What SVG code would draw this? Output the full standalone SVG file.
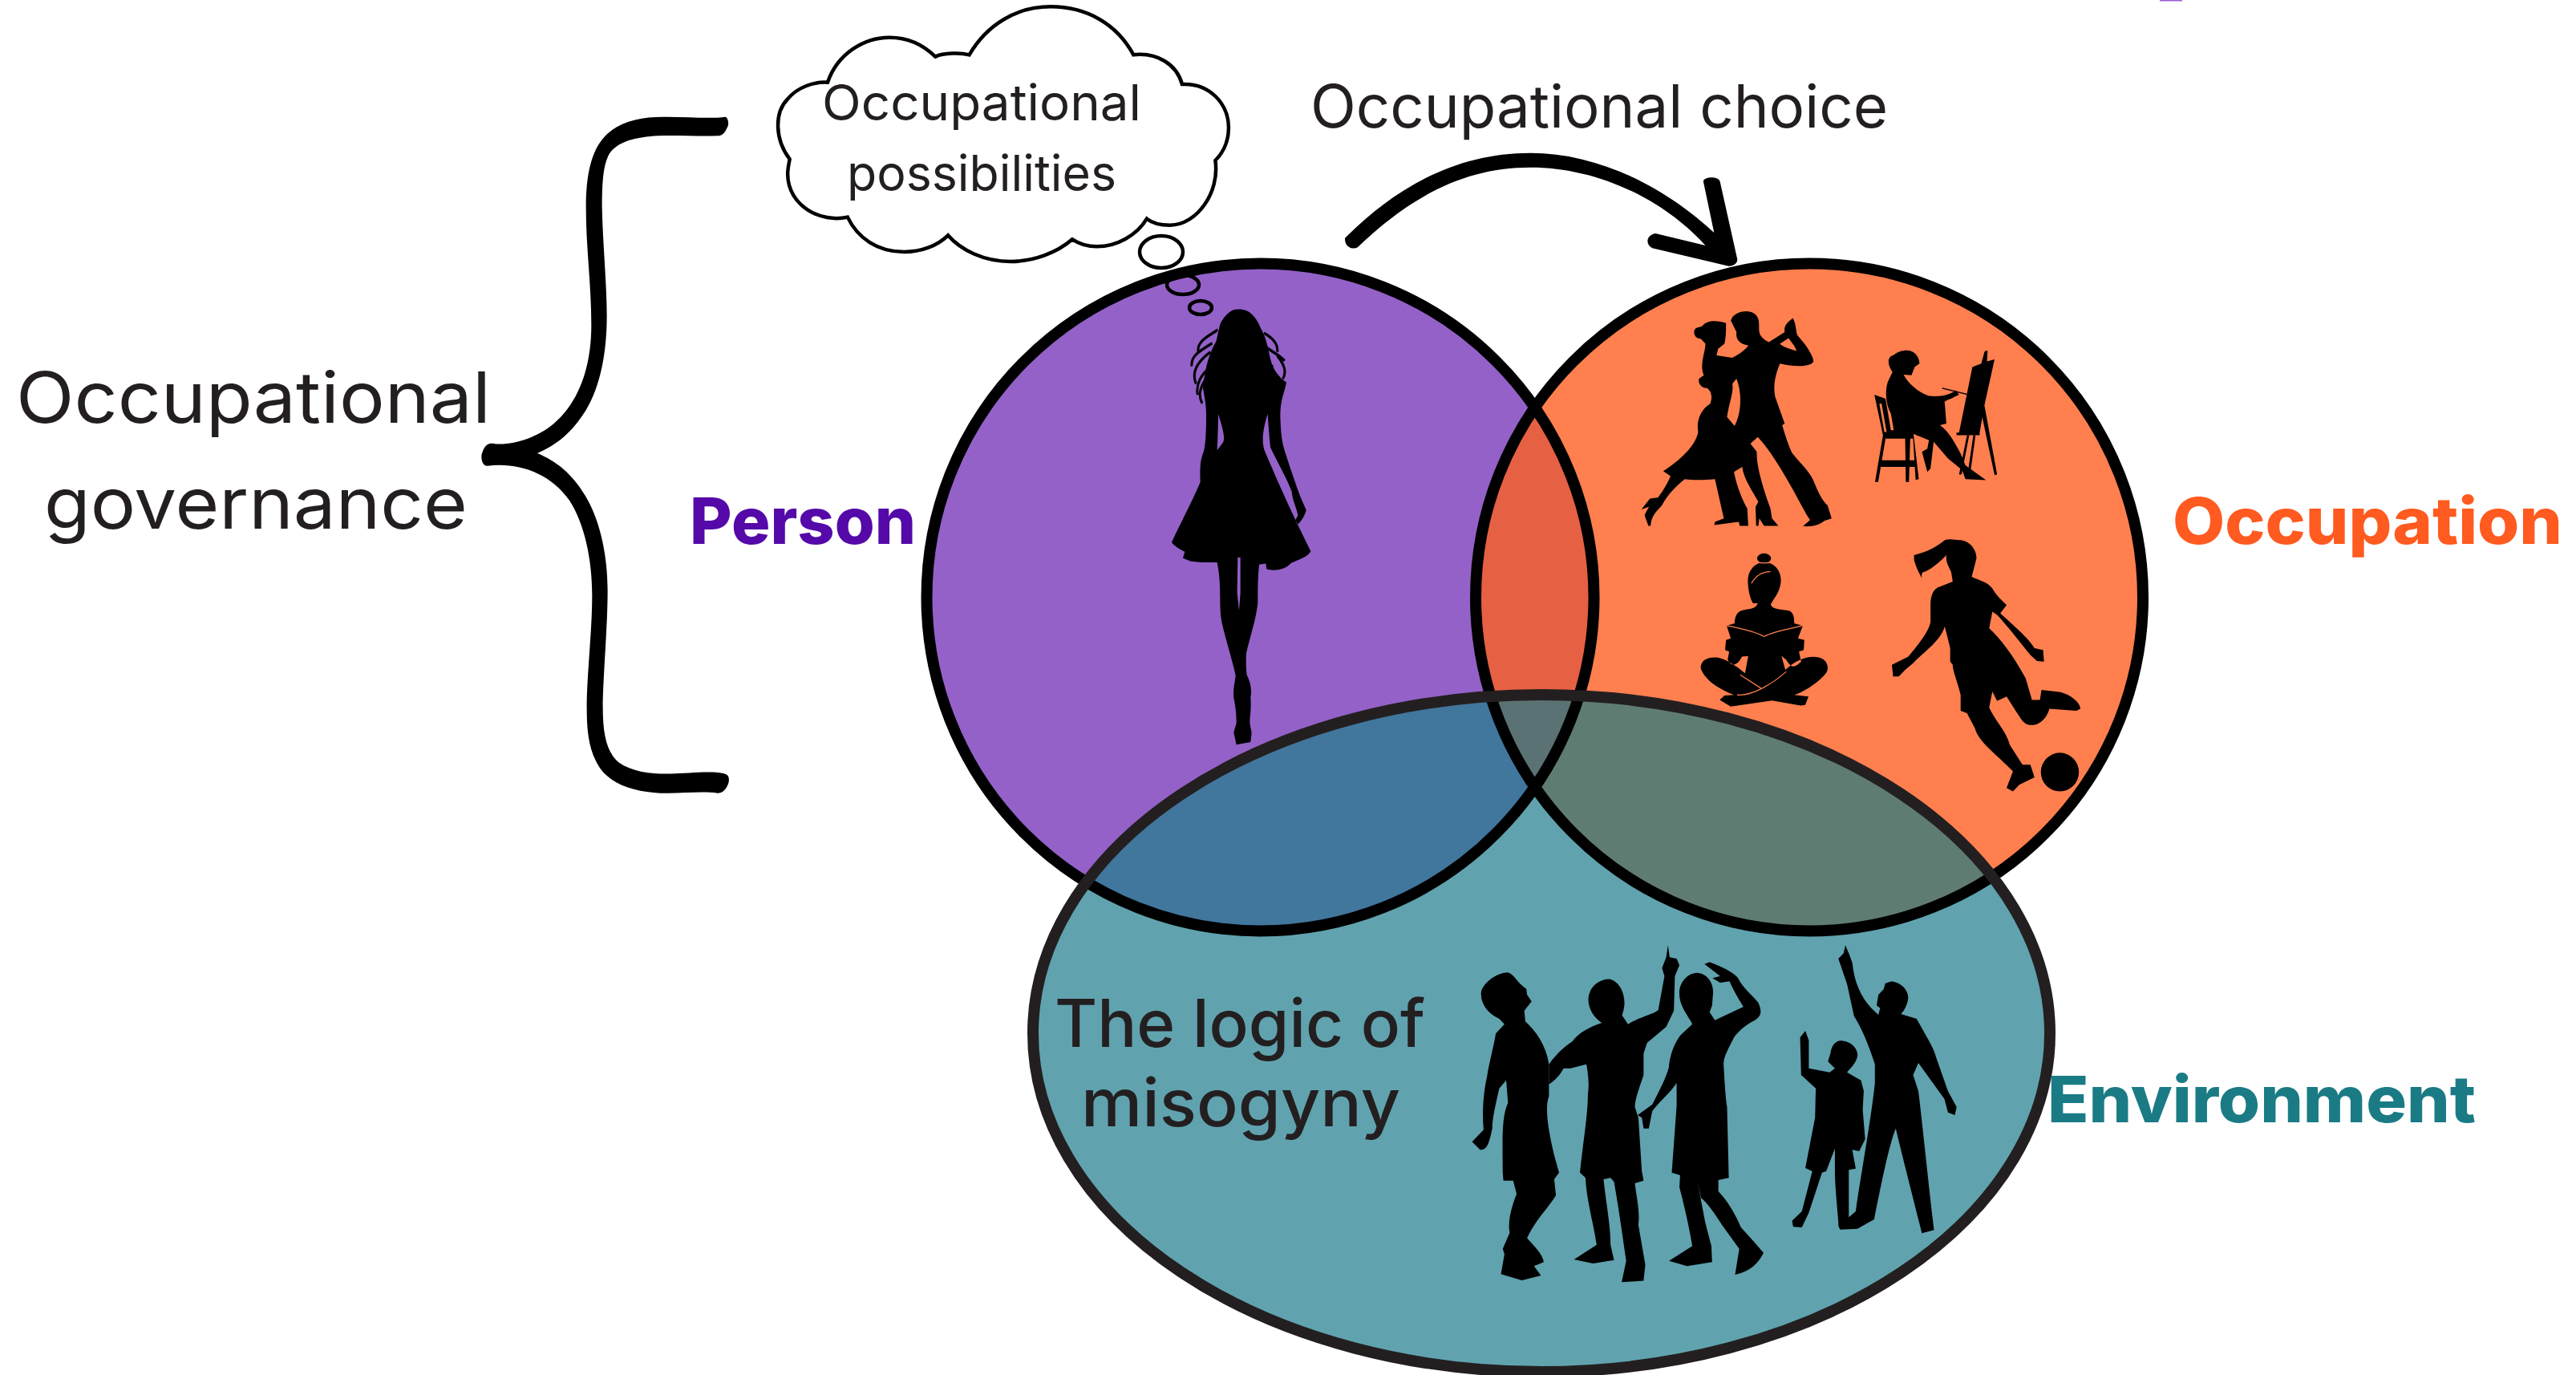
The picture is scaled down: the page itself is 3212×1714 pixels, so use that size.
<svg xmlns="http://www.w3.org/2000/svg" width="3212" height="1714" viewBox="0 0 3212 1714">
<style>
.t{font-family:Inter,"Liberation Sans",sans-serif;fill:#231f20;font-weight:400}
.m{font-weight:500}
.b{font-family:Inter,"Liberation Sans",sans-serif;font-weight:800}
.ring{fill:none;stroke:#000;stroke-width:14}
.sil{fill:#000;fill-rule:evenodd}
.bub{stroke:#000;stroke-width:4.5}
</style>
<defs>
<clipPath id="cpP"><circle cx="1571.5" cy="744.5" r="416"/></clipPath>
<clipPath id="cpO"><circle cx="2256" cy="744.5" r="416"/></clipPath>
<clipPath id="cpE"><ellipse cx="1922" cy="1288" rx="634" ry="422"/></clipPath>
</defs>
<rect width="3212" height="1714" fill="#fff"/>
<rect x="2693" y="0" width="28" height="1.5" fill="#9b5fd4"/>

<g id="fills">
<circle cx="1571.5" cy="744.5" r="416" fill="#9461c8"/>
<circle cx="2256" cy="744.5" r="416" fill="#ff7f4f"/>
<circle cx="2256" cy="744.5" r="416" fill="#e66043" clip-path="url(#cpP)"/>
<ellipse cx="1922" cy="1288" rx="634" ry="422" fill="#60a3af"/>
<g clip-path="url(#cpE)">
<circle cx="1571.5" cy="744.5" r="416" fill="#41769d"/>
<circle cx="2256" cy="744.5" r="416" fill="#5f7c73"/>
<circle cx="2256" cy="744.5" r="416" fill="#5a7273" clip-path="url(#cpP)"/>
</g>
</g>

<g id="node-person">
<g transform="translate(1350 340) scale(.3333 .3953)">
<path class="sil" d="M580 115C625 113 650 140 668 178C690 210 695 250 705 280C715 310 735 325 745 335L762 345C755 380 735 405 740 470C742 510 745 530 755 560C770 600 790 650 805 685C815 710 830 735 836 748C830 770 815 785 803 795L796 780L805 765C800 740 785 720 782 690C765 650 730 600 702 550C697 510 695 480 692 445C675 490 668 530 680 560C710 620 760 720 853 878C845 895 810 905 780 915C760 935 720 942 688 935L685 917L660 920C655 960 655 1000 655 1040C650 1090 625 1150 612 1200C610 1230 612 1260 615 1270C630 1295 633 1320 628 1340C632 1370 625 1400 625 1420L632 1450L628 1480L575 1488L565 1450L575 1420C575 1390 572 1370 565 1340C562 1310 570 1290 572 1270C560 1220 525 1130 518 1090C510 1050 520 980 503 913L445 913L405 910L375 900L382 880C360 870 340 860 333 850C360 800 410 720 440 660C438 620 440 590 450 570C460 550 462 500 462 450C462 420 458 400 450 365C455 320 465 265 500 215C505 195 510 175 515 160C535 130 555 115 580 115Z M507 445C520 480 535 520 525 535L503 560C505 520 507 480 507 445Z M580 898L590 898L590 1010L585 1065L578 1010Z"/>
<path d="M432 248C428 215 470 200 505 180M408 295C403 262 440 245 485 222M424 350C405 312 430 280 478 250M430 385C422 350 445 320 475 300M447 412C430 385 440 360 465 330M678 190C710 205 732 225 728 250M686 235C720 255 745 265 755 278M708 290C708 310 716 325 728 328M728 262C760 295 762 318 748 335" fill="none" stroke="#000" stroke-width="9"/>
</g>
</g>

<g id="node-occupation">
<g transform="translate(2000 360) scale(.3953 .4149)">
<path class="sil" d="M405 85C425 62 480 58 488 95C492 125 480 140 520 160L570 130C565 105 590 95 595 88C605 100 605 125 610 140C640 170 665 210 660 220C650 235 600 235 555 225C535 270 535 300 540 325L570 405L562 410C575 450 585 480 595 495C620 525 650 550 660 575C675 610 690 640 705 650L718 690L695 697C680 710 650 716 628 713L650 695L640 680C600 610 540 500 485 445L462 465L482 490C480 540 510 620 525 660L530 690L550 712L505 712L490 690L487 712L480 712L478 655L487 640C470 610 440 570 436 535L410 550C420 600 440 640 452 660L455 712L428 712L425 700L348 710L350 700L378 690L350 572C310 575 280 575 255 572C230 590 200 620 183 650C165 670 150 680 147 712L140 712L128 680C135 665 140 660 142 655L118 663L145 630L170 627C185 610 200 585 210 563L187 548C240 515 290 470 297 430C290 390 310 360 335 345C345 320 335 305 325 298C310 300 295 285 300 270L315 260C300 230 320 190 320 165L305 150C285 150 280 130 288 120C295 115 305 115 310 112C325 92 360 95 385 103C385 120 385 150 380 165L360 180L355 200L405 207C430 195 450 180 455 170C425 165 415 150 418 130L400 95Z M418 270C435 310 435 370 412 412L388 385C395 340 410 310 405 285Z M555 165L582 148C595 165 605 175 607 187C585 180 565 175 555 165Z"/>
<path class="sil" d="M955 185C980 185 995 205 995 225L980 235L970 260L945 258C960 285 990 310 1025 322C1060 325 1090 320 1110 305L1120 318L1105 325C1090 335 1070 335 1075 345L1080 405L1060 410C1090 430 1110 470 1125 495L1140 530L1205 575L1140 572L1130 545L1085 510L1040 460L1030 540L1020 550L1003 490L1020 480L1025 455C1000 445 975 435 960 430L915 430L905 375C890 350 885 310 895 280L910 250C895 230 890 205 915 198C925 190 940 185 955 185Z"/>
<path class="sil" d="M1068 297L1147 316L1145 319L1066 300Z"/>
<path class="sil" d="M853 318L888 330L905 425L975 425L993 572L983 574L975 450L966 450L962 580L952 580L950 450L888 450L865 580L855 580L880 440Z"/>
<path class="sil" d="M870 515L985 515L985 535L870 535Z"/>
<path class="sil" d="M1162 235L1190 225L1200 190L1204 186L1210 186L1208 218L1232 212L1200 350L1185 432L1185 440L1112 440L1112 432L1120 432Z"/>
<path class="sil" d="M1200 350L1240 558L1232 560L1192 380Z"/>
<path class="sil" d="M1145 440L1120 558L1128 558L1152 440Z"/>
<path class="sil" d="M1165 440L1148 550L1156 550L1172 440Z"/>
<path d="M872 345L888 430" fill="none" stroke="#ff7f4f" stroke-width="7"/>
<ellipse cx="505" cy="810" rx="22" ry="15"/>
<path class="sil" d="M505 822C540 822 560 850 558 880C555 910 540 925 530 942L526 948C530 965 560 962 585 968C600 975 600 990 600 1005L627 1012L612 1050L632 1055L630 1085L615 1090L622 1120C600 1140 590 1140 575 1115L560 1103L572 1145C610 1110 650 1100 680 1108C705 1115 712 1140 700 1155C670 1190 620 1215 600 1220L645 1225L635 1250L620 1252L530 1237L400 1255L365 1235L380 1222L410 1220C370 1205 320 1180 305 1140C305 1120 320 1105 360 1108C390 1115 420 1135 445 1155L455 1103L435 1105C420 1135 400 1135 390 1115L395 1090L382 1085L385 1055L400 1050L387 1012L412 1005C412 985 420 968 440 965C465 962 480 960 485 945L470 945C455 920 452 880 455 865C460 840 480 822 505 822Z"/>
<path d="M387 1012C430 1020 480 1030 505 1045C530 1030 590 1020 627 1012M430 1160L495 1200M575 1150C540 1180 470 1225 420 1220M465 885C480 860 500 850 525 850M470 818C490 826 520 826 540 818" fill="none" stroke="#ff7f4f" stroke-width="3"/>
<path class="sil" d="M1120 755C1150 755 1175 780 1175 810L1160 865C1180 875 1210 880 1225 900C1240 925 1260 940 1270 950L1250 975C1290 1010 1340 1050 1358 1080L1385 1085L1388 1120L1365 1118L1345 1100C1310 1060 1270 1010 1240 980L1225 970L1215 1020C1250 1050 1290 1100 1330 1170L1350 1235L1375 1235L1380 1205L1440 1212C1470 1220 1500 1240 1503 1262L1490 1268L1405 1262C1395 1295 1370 1315 1340 1310C1320 1305 1315 1290 1300 1270L1270 1225L1240 1238L1225 1210L1215 1258C1235 1300 1270 1330 1280 1370L1320 1430L1345 1430L1358 1468L1310 1490L1290 1510L1270 1500L1290 1450C1240 1400 1180 1360 1170 1320L1145 1275L1125 1268L1125 1220C1115 1180 1100 1150 1100 1130L1092 1120L1092 1080L1075 1015C1060 1060 1010 1090 975 1125L950 1145L930 1165L912 1165L908 1130L960 1105C990 1070 1025 1030 1030 1000L1030 950C1030 920 1040 900 1060 895L1100 880L1095 850C1085 830 1078 820 1080 800C1060 820 1030 845 1005 852C1000 860 1002 868 1004 872L992 850L985 835L978 815L978 800C1020 790 1050 775 1075 755C1095 750 1105 755 1120 755Z"/>
<ellipse cx="1438" cy="1452" rx="60" ry="58"/>
</g>
</g>

<g id="node-environment">
<g transform="translate(1800 1160) scale(.4337 .3333)">
<path class="sil" d="M185 157C205 165 210 195 238 218L240 240L253 265L232 300L235 340C265 375 295 430 303 500L303 620C293 650 295 720 320 850L332 905L318 930L323 990C300 1040 265 1080 240 1150C260 1180 285 1210 288 1240L260 1255L280 1290L225 1308L165 1285L175 1210L170 1190L190 1130C185 1100 190 1050 210 985L200 935L172 935L170 905C170 800 165 700 185 645L180 560L160 590C150 650 140 700 140 740C130 800 125 820 105 820L82 790L115 745C110 680 115 600 125 545C130 500 145 430 150 385L175 350L160 330C125 310 105 270 108 230C115 190 160 155 185 157Z"/>
<path class="sil" d="M480 182C510 195 520 240 520 270C520 300 510 320 515 320L530 350C560 325 600 315 617 298L635 170L628 140L640 100L645 55L650 100L670 105L678 130L665 170L662 300L640 360L585 420L575 460L575 540C565 580 550 630 550 660L560 700L570 900L575 935L550 945C555 1000 565 1050 560 1100L580 1250L575 1310L512 1315L525 1235C515 1150 505 1050 490 940L480 925L460 930C465 1000 480 1100 480 1175L490 1232L430 1245L375 1230L440 1175C430 1090 410 1000 408 925L392 905C400 800 415 690 415 610C420 570 413 510 410 500L365 515L345 515C335 540 320 560 303 575L303 500C320 470 340 440 370 415C385 385 420 360 455 345C430 325 410 280 418 240C425 205 450 180 480 182Z"/>
<path class="sil" d="M730 158C755 160 775 190 775 230L772 280L765 305L780 335L862 285C845 250 830 215 822 190L795 195L773 178L795 170L750 125L765 118C800 135 830 155 845 175C860 215 890 245 905 270C915 300 915 320 895 335C865 355 845 380 835 400C820 440 805 470 805 500C808 560 810 620 815 660L820 925L790 933L790 975C815 1010 835 1050 855 1110L890 1160L920 1205C905 1245 880 1275 838 1287L850 1190L800 1100C780 1060 760 1020 740 1000L730 940L752 1090L770 1180L772 1240L700 1255L648 1235L715 1180C705 1100 690 1020 678 960L680 915L656 905L670 655L670 570C650 610 620 640 600 675L590 740L575 740L570 700L558 690L600 650C620 600 640 550 648 510C650 460 670 400 690 380L715 350C700 310 675 280 678 225C682 185 705 158 730 158Z"/>
<path class="sil" d="M1140 412C1170 412 1192 440 1190 470C1185 500 1165 520 1160 530L1200 560L1208 600L1205 670L1212 780L1195 825L1175 820L1185 890L1165 895L1165 1090L1135 1105L1135 1090C1130 1010 1125 950 1125 897L1125 815L1100 900L1088 905L1050 1055L1030 1110L1005 1108L1002 1085L1030 1050L1060 900L1040 888L1068 700L1070 590L1028 540L1025 400L1040 375L1050 410L1050 515L1110 530L1125 515L1105 490L1112 460C1115 430 1125 415 1140 412Z"/>
<path class="sil" d="M1288 190C1320 195 1340 230 1335 260C1330 290 1320 305 1315 312L1360 330C1385 390 1410 440 1415 470L1450 600L1475 660L1470 690L1450 680L1440 630L1365 495L1350 540L1365 600C1375 700 1390 900 1410 1120L1375 1132L1368 1095C1350 1000 1320 850 1300 740C1280 800 1250 1000 1238 1080L1190 1115L1140 1118L1135 1105L1185 1050C1195 950 1230 700 1240 570L1240 500C1220 420 1200 360 1180 320L1160 200L1135 105L1150 85L1155 55L1165 85L1175 120C1180 190 1200 250 1230 290L1250 315L1255 290L1245 280L1250 240L1265 220L1270 197Z"/>
</g>
</g>

<g id="rings">
<circle class="ring" cx="1571.5" cy="744.5" r="416"/>
<circle class="ring" cx="2256" cy="744.5" r="416"/>
<ellipse cx="1922" cy="1288" rx="634" ry="422" fill="none" stroke="#231f20" stroke-width="14"/>
</g>

<g id="node-thought">
<path transform="translate(920 0) scale(.8292 .3333)" vector-effect="non-scaling-stroke" fill="#fff" stroke="#000" stroke-width="4.5" d="M135 308C150 200 190 140 228 140C258 140 280 170 297 212C310 197 335 197 348 205C375 90 420 25 470 25C525 25 570 90 595 205C630 195 660 240 668 315C710 310 738 390 738 478C738 530 730 570 718 600C725 720 690 842 650 842C635 842 622 832 615 818C600 880 570 922 540 922C525 922 512 910 503 895C480 945 445 978 410 978C370 978 335 935 316 880C300 920 275 942 250 942C210 942 180 890 165 812C125 835 75 770 75 650C75 630 77 610 78 595C55 520 55 420 75 370C90 325 115 305 135 308Z"/>
<ellipse class="bub" cx="1448" cy="314" rx="27" ry="20" fill="#fff"/>
<ellipse class="bub" cx="1475" cy="355" rx="20" ry="12" fill="none"/>
<ellipse class="bub" cx="1497" cy="383.5" rx="14" ry="8.5" fill="none"/>
<text class="t" x="1025" y="150" font-size="62" textLength="398" lengthAdjust="spacingAndGlyphs">Occupational</text>
<text class="t" x="1056" y="238" font-size="62" textLength="336" lengthAdjust="spacingAndGlyphs">possibilities</text>
</g>

<g id="connectors">
<path id="arrow" transform="translate(920 0) scale(.8292 .3333)" fill="#000" d="M913 890C990 700 1080 572 1192 572C1290 572 1390 690 1468 870L1452 680C1450 662 1475 655 1477 680L1503 970C1503 985 1498 995 1490 995L1375 928C1365 915 1365 880 1380 873L1455 918C1390 740 1290 626 1192 626C1090 626 1010 740 932 925C925 935 912 925 913 890Z"/>
<path id="brace" transform="translate(590 130) scale(.3333 .5612)" fill="#000" d="M945 28C955 32 958 45 950 52C940 65 930 70 915 70C850 72 760 68 690 70C600 73 530 85 505 115C485 140 482 180 482 230C485 310 500 400 500 470C500 560 470 640 410 690C360 735 300 760 240 775C310 792 370 820 420 870C480 930 503 1010 503 1080C503 1160 485 1280 485 1340C485 1400 500 1440 545 1462C600 1485 680 1488 740 1487C800 1487 880 1480 935 1486C955 1488 960 1495 955 1508C945 1525 930 1530 915 1530C850 1525 770 1532 700 1530C600 1527 500 1510 460 1460C430 1425 425 1385 425 1340C425 1270 445 1170 445 1090C445 1010 415 930 360 880C290 820 170 795 55 803C35 805 25 785 35 772C45 755 60 752 80 754C150 758 240 740 300 710C390 665 442 590 442 490C442 400 422 320 422 230C422 170 435 115 480 80C530 40 620 28 710 28C790 27 880 33 945 28Z"/>
</g>

<g id="labels">
<text class="t" x="1634" y="159" font-size="74" textLength="720" lengthAdjust="spacingAndGlyphs">Occupational choice</text>
<text class="t" x="20" y="527" font-size="88" textLength="592" lengthAdjust="spacingAndGlyphs">Occupational</text>
<text class="t" x="55" y="659" font-size="88" textLength="528" lengthAdjust="spacingAndGlyphs">governance</text>
<text class="b" x="860" y="678" font-size="80" fill="#5509a8" textLength="282" lengthAdjust="spacingAndGlyphs">Person</text>
<text class="b" x="2709" y="678" font-size="80" fill="#ff5a1f" textLength="486" lengthAdjust="spacingAndGlyphs">Occupation</text>
<text class="b" x="2553" y="1399" font-size="80" fill="#1a7b85" textLength="534" lengthAdjust="spacingAndGlyphs">Environment</text>
<text class="t m" x="1315" y="1305" font-size="82" textLength="462" lengthAdjust="spacingAndGlyphs">The logic of</text>
<text class="t m" x="1348" y="1404" font-size="82" textLength="398" lengthAdjust="spacingAndGlyphs">misogyny</text>
</g>
</svg>
